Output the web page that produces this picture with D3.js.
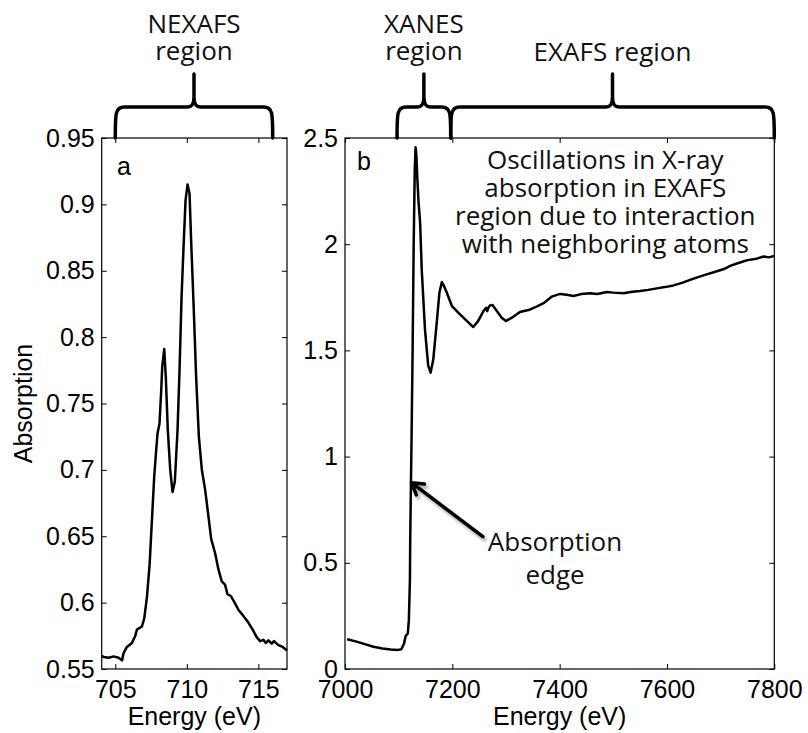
<!DOCTYPE html>
<html>
<head>
<meta charset="utf-8">
<script src="https://cdn.jsdelivr.net/npm/d3@7"></script>
<style>
  body { margin: 0; background: #fff; }
  .tick text { font-family: "Liberation Sans", Arial, sans-serif; font-size: 25px; fill: #000; }
  .note { font-family: "Open Sans", sans-serif; font-size: 26px; fill: #111; }
  .lbl { font-family: "Liberation Sans", Arial, sans-serif; font-size: 25px; fill: #000; }
</style>
</head>
<body>
<svg width="808" height="733"></svg>
<script>
// panel a: L-edge (NEXAFS)
var aEnergy = [704.05, 704.19, 704.53, 704.88, 705.23, 705.47, 705.58, 705.81, 706.16, 706.40, 706.51, 706.86,
  707.02, 707.21, 707.40, 707.56, 707.72, 707.86, 707.95, 708.09, 708.21, 708.28, 708.42, 708.53, 708.67,
  708.84, 709.0, 709.16, 709.35, 709.49, 709.63, 709.77, 709.91, 710.05, 710.19, 710.30, 710.47, 710.65,
  710.84, 711.05, 711.28, 711.51, 711.70, 711.98, 712.21, 712.44, 712.67, 712.84, 713.07, 713.37, 713.60,
  713.95, 714.30, 714.60, 714.88, 715.12, 715.35, 715.51, 715.70, 715.93, 716.09, 716.40, 716.70, 717.0];
var aAbs = [0.560, 0.559, 0.5585, 0.5595, 0.5585, 0.5565, 0.562, 0.5666, 0.5696, 0.575, 0.5797, 0.582,
  0.588, 0.604, 0.629, 0.662, 0.695, 0.715, 0.7274, 0.735, 0.760, 0.7776, 0.791, 0.770, 0.730,
  0.700, 0.6834, 0.691, 0.730, 0.775, 0.830, 0.868, 0.903, 0.915, 0.908, 0.873, 0.825, 0.770,
  0.725, 0.700, 0.685, 0.665, 0.648, 0.637, 0.625, 0.616, 0.6136, 0.6063, 0.605, 0.5994, 0.5947,
  0.590, 0.585, 0.5797, 0.574, 0.571, 0.572, 0.5696, 0.5716, 0.5691, 0.571, 0.568, 0.5666, 0.564];

// panel b: K-edge (XANES + EXAFS)
var bEnergy = [7004, 7020, 7040, 7053, 7070, 7085, 7099, 7105, 7110, 7113, 7117, 7119, 7121, 7121.5, 7122.5,
  7124, 7126, 7128, 7130, 7131.5, 7133, 7135, 7137, 7140, 7143, 7149, 7155, 7159.5, 7164.5, 7171, 7176,
  7180.5, 7185, 7190, 7199, 7211, 7224, 7239, 7248, 7258, 7263, 7265, 7267, 7270, 7275, 7283, 7292, 7300,
  7311, 7326, 7342, 7357, 7370, 7385, 7401, 7413, 7426, 7440, 7457, 7470, 7488, 7500, 7519, 7535, 7550,
  7565, 7581, 7596, 7612, 7628, 7643, 7658, 7674, 7690, 7705, 7720, 7736, 7750, 7767, 7780, 7790, 7800];
var bAbs = [0.14, 0.13, 0.115, 0.105, 0.097, 0.092, 0.09, 0.093, 0.12, 0.155, 0.167, 0.23, 0.42, 0.6, 0.8,
  1.08, 1.5, 2.0, 2.35, 2.456, 2.42, 2.3, 2.2, 2.1, 1.88, 1.6, 1.43, 1.395, 1.457, 1.632, 1.773,
  1.822, 1.80, 1.77, 1.71, 1.678, 1.646, 1.61, 1.638, 1.685, 1.701, 1.685, 1.70, 1.712, 1.714, 1.685, 1.654, 1.638,
  1.654, 1.681, 1.69, 1.706, 1.722, 1.753, 1.766, 1.762, 1.756, 1.765, 1.769, 1.766, 1.775, 1.772, 1.769, 1.776, 1.78,
  1.785, 1.792, 1.798, 1.806, 1.818, 1.832, 1.845, 1.858, 1.87, 1.882, 1.9, 1.914, 1.925, 1.932, 1.942, 1.938, 1.945];

var aXTicks = [705, 710, 715];
var aYTicks = [0.55, 0.6, 0.65, 0.7, 0.75, 0.8, 0.85, 0.9, 0.95];
var bXTicks = [7000, 7200, 7400, 7600, 7800];
var bYTicks = [0, 0.5, 1, 1.5, 2, 2.5];

// brace spans [from, to] in eV, and the label lines above each
var braces = [
  { panel: "a", from: 705, to: 716, lines: ["NEXAFS", "region"] },
  { panel: "b", from: 7097, to: 7197, lines: ["XANES", "region"] },
  { panel: "b", from: 7197, to: 7800, lines: ["EXAFS region"] }
];

var svg = d3.select("svg");
var plotTop = 138, plotBottom = 669;

var xa = d3.scaleLinear().domain([704.05, 717]).range([101.7, 287]);
var ya = d3.scaleLinear().domain([0.55, 0.95]).range([plotBottom, plotTop]);
var xb = d3.scaleLinear().domain([7000, 7800]).range([345, 774.3]);
var yb = d3.scaleLinear().domain([0, 2.5]).range([plotBottom, plotTop]);

var defs = svg.append("defs");
defs.append("filter").attr("id", "shadow")
  .attr("x", "-20%").attr("y", "-20%").attr("width", "150%").attr("height", "150%")
  .append("feDropShadow")
  .attr("dx", 2).attr("dy", 3).attr("stdDeviation", 1.5)
  .attr("flood-color", "#000").attr("flood-opacity", 0.35);

function drawPanel(x, y, xt, yt, xs, ys, letter, lx, ly) {
  var g = svg.append("g");
  var x0 = x.range()[0], x1 = x.range()[1];
  var fmt = d3.format("");

  var line = d3.line()
    .x(function(d, i) { return x(xs[i]); })
    .y(function(d, i) { return y(ys[i]); });

  g.append("path")
    .datum(xs)
    .attr("d", line)
    .attr("fill", "none")
    .attr("stroke", "#000")
    .attr("stroke-width", 2.5)
    .attr("stroke-linejoin", "round");

  // inward ticks on all four sides, labels on left and bottom
  g.append("g").attr("transform", "translate(0," + plotBottom + ")")
    .call(d3.axisBottom(x).tickValues(xt).tickSizeInner(-5).tickSizeOuter(0).tickPadding(11).tickFormat(fmt))
    .call(function(s) { s.select(".domain").remove(); });
  g.append("g").attr("transform", "translate(0," + plotTop + ")")
    .call(d3.axisTop(x).tickValues(xt).tickSizeInner(-5).tickSizeOuter(0).tickFormat(""))
    .call(function(s) { s.select(".domain").remove(); });
  g.append("g").attr("transform", "translate(" + x0 + ",0)")
    .call(d3.axisLeft(y).tickValues(yt).tickSizeInner(-5).tickSizeOuter(0).tickPadding(7).tickFormat(fmt))
    .call(function(s) { s.select(".domain").remove(); });
  g.append("g").attr("transform", "translate(" + x1 + ",0)")
    .call(d3.axisRight(y).tickValues(yt).tickSizeInner(-5).tickSizeOuter(0).tickFormat(""))
    .call(function(s) { s.select(".domain").remove(); });

  g.selectAll("g").attr("font-size", null).attr("font-family", null);
  g.selectAll(".tick line").attr("stroke", "#000");

  g.append("rect")
    .attr("x", x0).attr("y", plotTop)
    .attr("width", x1 - x0).attr("height", plotBottom - plotTop)
    .attr("fill", "none").attr("stroke", "#000").attr("stroke-width", 1.2);

  g.append("text").attr("class", "lbl").attr("x", lx).attr("y", ly).text(letter);

  g.append("text").attr("class", "lbl")
    .attr("x", (x0 + x1) / 2).attr("y", 725)
    .attr("text-anchor", "middle")
    .text("Energy (eV)");
}

drawPanel(xa, ya, aXTicks, aYTicks, aEnergy, aAbs, "a", 117, 175);
drawPanel(xb, yb, bXTicks, bYTicks, bEnergy, bAbs, "b", 357, 170);

svg.append("text").attr("class", "lbl")
  .attr("transform", "translate(32," + (plotTop + plotBottom) / 2 + ") rotate(-90)")
  .attr("text-anchor", "middle")
  .text("Absorption");

// curly braces over the energy ranges
function bracePath(xl, xr) {
  var y0 = plotTop, yh = 107, yt = 74, xm = (xl + xr) / 2, r = 9;
  return "M" + xl + "," + y0 +
    " C" + xl + "," + (yh + 6) + " " + xl + "," + yh + " " + (xl + r) + "," + yh +
    " L" + (xm - 7) + "," + yh +
    " C" + (xm - 2) + "," + yh + " " + xm + "," + (yh - 3) + " " + xm + "," + (yh - 10) +
    " L" + xm + "," + yt +
    " L" + xm + "," + (yh - 10) +
    " C" + xm + "," + (yh - 3) + " " + (xm + 2) + "," + yh + " " + (xm + 7) + "," + yh +
    " L" + (xr - r) + "," + yh +
    " C" + xr + "," + yh + " " + xr + "," + (yh + 6) + " " + xr + "," + y0;
}

braces.forEach(function(b) {
  var sc = b.panel === "a" ? xa : xb;
  var xl = sc(b.from), xr = sc(b.to), xm = (xl + xr) / 2;
  svg.append("path")
    .attr("d", bracePath(xl, xr))
    .attr("fill", "none")
    .attr("stroke", "#000")
    .attr("stroke-width", 3.5)
    .attr("stroke-linecap", "round")
    .attr("stroke-linejoin", "round");
  var t = svg.append("text").attr("class", "note").attr("text-anchor", "middle");
  var y0 = b.lines.length === 1 ? 61 : 33;
  b.lines.forEach(function(s, i) {
    t.append("tspan").attr("x", xm).attr("y", y0 + i * 27).text(s);
  });
});

// EXAFS note
var osc = ["Oscillations in X-ray", "absorption in EXAFS", "region due to interaction", "with neighboring atoms"];
svg.append("text").attr("class", "note").attr("text-anchor", "middle")
  .selectAll("tspan").data(osc).enter().append("tspan")
  .attr("x", xb(7485)).attr("y", function(d, i) { return 169 + i * 28; })
  .text(function(d) { return d; });

// absorption edge arrow
var tip = [xb(7124), yb(0.877)], tail = [xb(7257), yb(0.623)];
var ang = Math.atan2(tail[1] - tip[1], tail[0] - tip[0]);
var hl = 13, ha = 0.55;
var arrow = svg.append("g").attr("filter", "url(#shadow)");
arrow.append("path")
  .attr("d", "M" + tail[0] + "," + tail[1] + " L" + tip[0] + "," + tip[1] +
    " M" + (tip[0] + hl * Math.cos(ang - ha)) + "," + (tip[1] + hl * Math.sin(ang - ha)) +
    " L" + tip[0] + "," + tip[1] +
    " L" + (tip[0] + hl * Math.cos(ang + ha)) + "," + (tip[1] + hl * Math.sin(ang + ha)))
  .attr("fill", "none")
  .attr("stroke", "#000")
  .attr("stroke-width", 3.5)
  .attr("stroke-linecap", "round")
  .attr("stroke-linejoin", "round");

svg.append("text").attr("class", "note").attr("text-anchor", "middle")
  .selectAll("tspan").data(["Absorption", "edge"]).enter().append("tspan")
  .attr("x", 555).attr("y", function(d, i) { return 551 + i * 33; })
  .text(function(d) { return d; });
</script>
</body>
</html>
